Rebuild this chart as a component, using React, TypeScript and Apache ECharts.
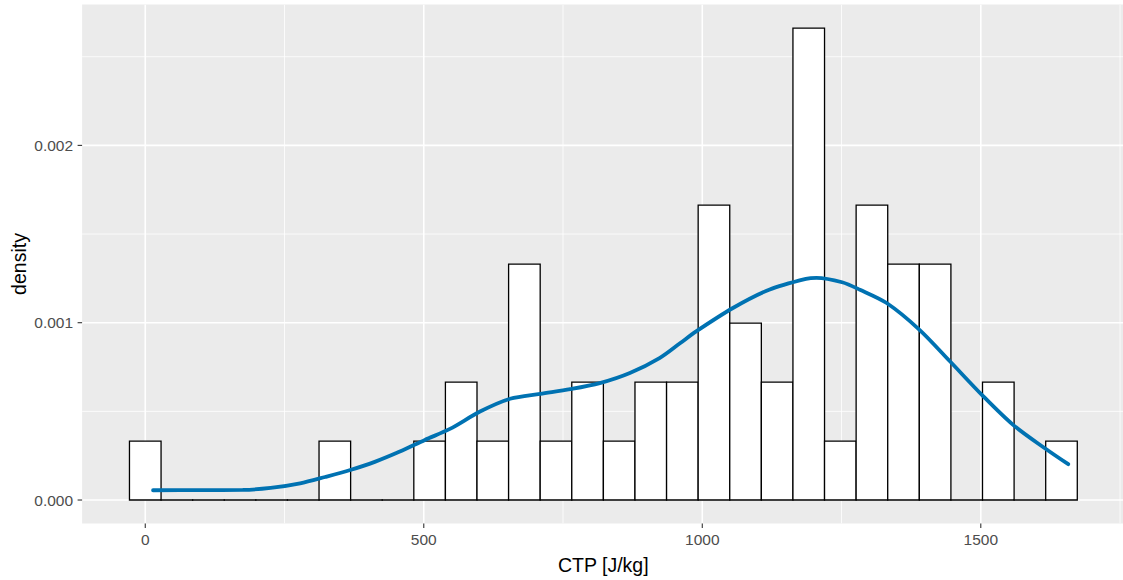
import React, { useEffect, useRef } from "react";
import * as echarts from "echarts";

// Histogram: 30 bins, counts per bin (bins centred at k * binWidth)
const binWidth = 56.72;
const binCounts = [1, 0, 0, 0, 0, 0, 1, 0, 0, 1, 2, 1, 4, 1, 2, 1, 2, 2, 5, 3, 2, 8, 1, 5, 4, 4, 0, 2, 0, 1];
const sampleSize = 53;

// Kernel density estimate: [CTP, density]
const densityX = [14, 100, 175, 225, 278, 323, 368, 412, 457, 502, 547, 601, 655, 709, 763, 816, 870, 924, 960, 989, 1055, 1120, 1186, 1205, 1251, 1283, 1331, 1390, 1445, 1502, 1558, 1615, 1657];
const densityY = [0.000055, 0.000056, 0.000057, 0.000068, 0.000094, 0.00013, 0.000169, 0.000215, 0.000273, 0.000339, 0.000401, 0.000499, 0.000571, 0.000599, 0.000625, 0.000659, 0.000716, 0.000802, 0.000884, 0.000951, 0.001083, 0.001186, 0.001247, 0.001253, 0.001228, 0.001186, 0.001111, 0.00096, 0.000781, 0.000593, 0.000424, 0.000292, 0.000202];

const xTicks = [0, 500, 1000, 1500];
const xMinor = [250, 750, 1250, 1750];
const yTicks = [0, 0.001, 0.002];
const yMinor = [0.0005, 0.0015, 0.0025];

const xMin = -113.4;
const xMax = 1758;
const yMin = -0.000133;
const yMax = 0.002794;

export default function App() {
  const ref = useRef<HTMLDivElement>(null);

  useEffect(() => {
    if (!ref.current) return;
    const chart = echarts.init(ref.current, null, { renderer: "svg" });

    const barData = binCounts.map((c, i) => [i * binWidth, c / (sampleSize * binWidth)]);
    const densData = densityX.map((x, i) => [x, densityY[i]]);

    // grid line data: [x, y, isVertical, isMajor]
    const gridData = [
      ...xMinor.map((v) => [v, 0, 1, 0]),
      ...yMinor.map((v) => [0, v, 0, 0]),
      ...xTicks.map((v) => [v, 0, 1, 1]),
      ...yTicks.map((v) => [0, v, 0, 1]),
    ];
    // tick mark data: [x, y, isXAxis]
    const tickData = [
      ...xTicks.map((v) => [v, 0, 1]),
      ...yTicks.map((v) => [0, v, 0]),
    ];

    const font = "Liberation Sans, Arial, sans-serif";
    const tickLen = 4.5;

    chart.setOption({
      animation: false,
      backgroundColor: "#FFFFFF",
      grid: {
        left: 82.1,
        top: 4.6,
        width: 1042.4,
        height: 519,
        show: true,
        backgroundColor: "#EBEBEB",
        borderWidth: 0,
        containLabel: false,
        outerBoundsMode: "none",
      },
      xAxis: {
        type: "value",
        min: xMin,
        max: xMax,
        axisLine: { show: false, onZero: false },
        splitLine: { show: false },
        axisTick: { show: false },
        axisLabel: {
          customValues: xTicks,
          color: "#4D4D4D",
          fontSize: 15.5,
          fontFamily: font,
          margin: 8,
          formatter: (v: number) => String(v),
        },
      },
      yAxis: {
        type: "value",
        min: yMin,
        max: yMax,
        axisLine: { show: false, onZero: false },
        splitLine: { show: false },
        axisTick: { show: false },
        axisLabel: {
          customValues: yTicks,
          color: "#4D4D4D",
          fontSize: 15.5,
          fontFamily: font,
          margin: 9,
          formatter: (v: number) => v.toFixed(3),
        },
      },
      graphic: [
        {
          type: "text",
          x: 603.3,
          y: 565,
          style: {
            text: "CTP [J/kg]",
            fill: "#000000",
            font: `19.5px ${font}`,
            align: "center",
            verticalAlign: "middle",
          },
        },
        {
          type: "text",
          x: 19,
          y: 264,
          rotation: Math.PI / 2,
          style: {
            text: "density",
            fill: "#000000",
            font: `19.5px ${font}`,
            align: "center",
            verticalAlign: "middle",
          },
        },
      ],
      series: [
        {
          name: "gridlines",
          type: "custom",
          z: 1,
          silent: true,
          clip: true,
          data: gridData,
          renderItem: (params: any, api: any) => {
            const vertical = api.value(2) === 1;
            const major = api.value(3) === 1;
            const a = vertical ? api.coord([api.value(0), yMin]) : api.coord([xMin, api.value(1)]);
            const b = vertical ? api.coord([api.value(0), yMax]) : api.coord([xMax, api.value(1)]);
            return {
              type: "line",
              shape: { x1: a[0], y1: a[1], x2: b[0], y2: b[1] },
              style: { stroke: "#FFFFFF", lineWidth: major ? 1.6 : 0.8 },
            };
          },
        },
        {
          name: "ticks",
          type: "custom",
          z: 1,
          silent: true,
          clip: false,
          data: tickData,
          renderItem: (params: any, api: any) => {
            const isX = api.value(2) === 1;
            const p = isX ? api.coord([api.value(0), yMin]) : api.coord([xMin, api.value(1)]);
            const shape = isX
              ? { x1: p[0], y1: p[1], x2: p[0], y2: p[1] + tickLen }
              : { x1: p[0] - tickLen, y1: p[1], x2: p[0], y2: p[1] };
            return {
              type: "line",
              shape,
              style: { stroke: "#333333", lineWidth: 1.1 },
            };
          },
        },
        {
          name: "histogram",
          type: "custom",
          z: 3,
          silent: true,
          data: barData,
          renderItem: (params: any, api: any) => {
            const x = api.value(0);
            const y = api.value(1);
            const p0 = api.coord([x - binWidth / 2, y]);
            const p1 = api.coord([x + binWidth / 2, 0]);
            if (y === 0) {
              return {
                type: "rect",
                shape: { x: p0[0] - 0.65, y: p1[1] - 0.65, width: p1[0] - p0[0] + 1.3, height: 1.3 },
                style: { fill: "#000000" },
              };
            }
            return {
              type: "rect",
              shape: { x: p0[0], y: p0[1], width: p1[0] - p0[0], height: p1[1] - p0[1] },
              style: { fill: "#FFFFFF", stroke: "#000000", lineWidth: 1.3 },
            };
          },
        },
        {
          name: "density",
          type: "line",
          z: 4,
          data: densData,
          smooth: 0.3,
          showSymbol: false,
          silent: true,
          lineStyle: { color: "#0072B2", width: 3.8, cap: "round" },
        },
      ],
    });

    return () => chart.dispose();
  }, []);

  return (
    <div
      ref={ref}
      style={{ position: "absolute", left: 0, top: 0, width: 1123, height: 580 }}
    />
  );
}
